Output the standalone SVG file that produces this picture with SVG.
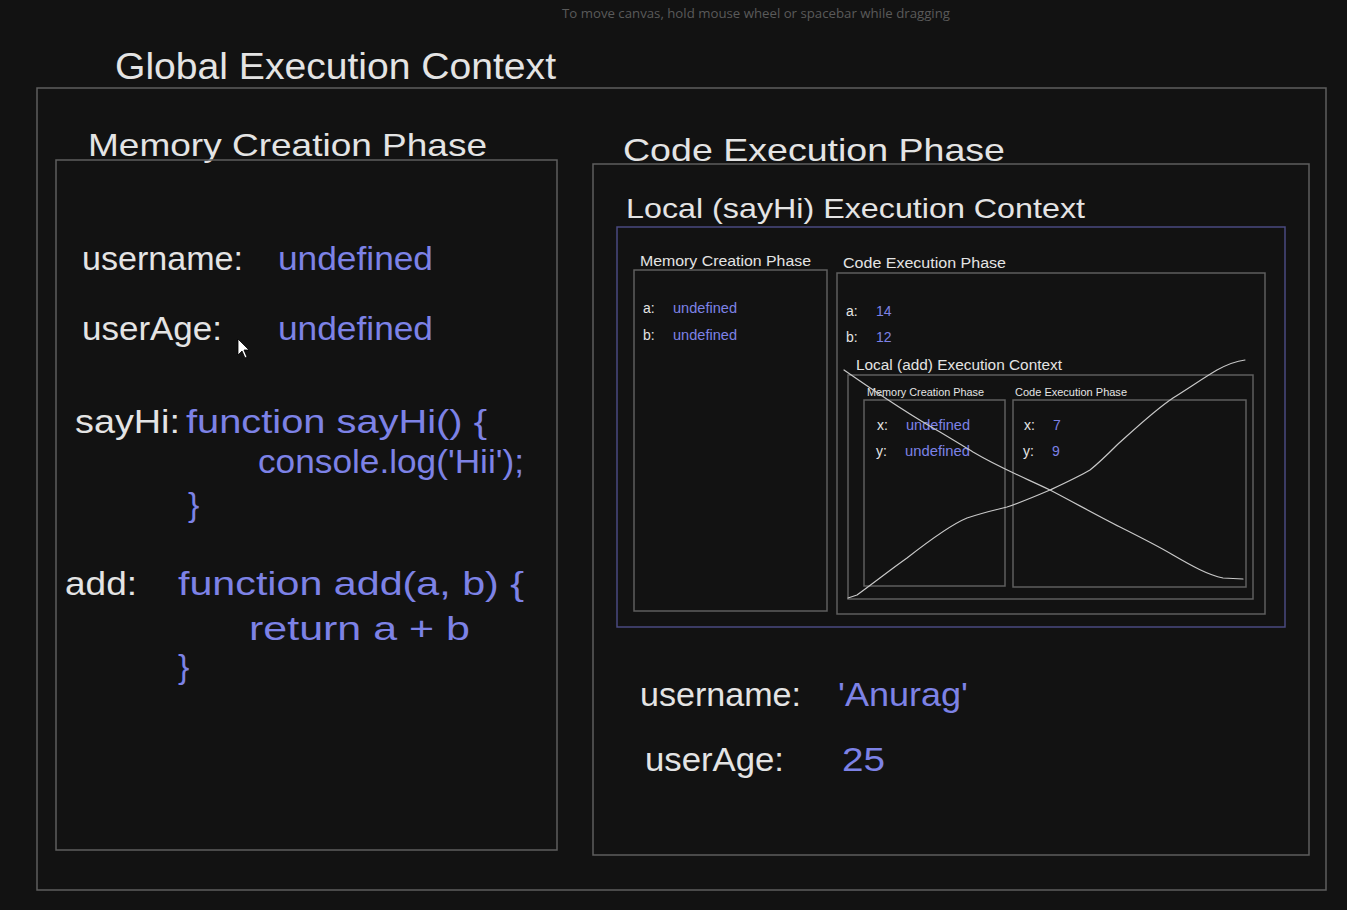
<svg xmlns="http://www.w3.org/2000/svg" width="1347" height="910" viewBox="0 0 1347 910">
<style>
.bg{fill:#121212}
.box{fill:none;stroke:#5e5e5e;stroke-width:1.5}
.boxp{fill:none;stroke:#4a4a80;stroke-width:1.5}
.w{fill:#e4e4e4;font-family:"Liberation Sans",Arial,sans-serif}
.b{fill:#7d82e6;font-family:"Liberation Sans",Arial,sans-serif}
.hint{fill:#5a5a5a;font-family:"Open Sans","Liberation Sans",sans-serif;font-size:13px}
.x{fill:none;stroke:#c8c8c8;stroke-width:1.2;stroke-linecap:round;stroke-linejoin:round}
</style>
<rect class="bg" x="0" y="0" width="1347" height="910"/>
<text class="hint" x="756" y="18" text-anchor="middle" textLength="388" lengthAdjust="spacingAndGlyphs">To move canvas, hold mouse wheel or spacebar while dragging</text>

<g id="global-context">
<text class="w" x="115" y="79" font-size="36" textLength="441" lengthAdjust="spacingAndGlyphs">Global Execution Context</text>
<rect class="box" x="37" y="88" width="1289" height="802"/>
</g>

<g id="memory-phase">
<text class="w" x="88" y="156" font-size="32" textLength="399" lengthAdjust="spacingAndGlyphs">Memory Creation Phase</text>
<rect class="box" x="56" y="160" width="501" height="690"/>
<text class="w" x="82" y="270" font-size="34" textLength="161" lengthAdjust="spacingAndGlyphs">username:</text>
<text class="b" x="278" y="270" font-size="34" textLength="155" lengthAdjust="spacingAndGlyphs">undefined</text>
<text class="w" x="82" y="340" font-size="34" textLength="140" lengthAdjust="spacingAndGlyphs">userAge:</text>
<text class="b" x="278" y="340" font-size="34" textLength="155" lengthAdjust="spacingAndGlyphs">undefined</text>
<text class="w" x="75" y="433" font-size="34" textLength="105" lengthAdjust="spacingAndGlyphs">sayHi:</text>
<text class="b" x="186" y="433" font-size="34" textLength="301" lengthAdjust="spacingAndGlyphs">function sayHi() {</text>
<text class="b" x="258" y="473" font-size="34" textLength="266" lengthAdjust="spacingAndGlyphs">console.log('Hii');</text>
<text class="b" x="188" y="516" font-size="34">}</text>
<text class="w" x="65" y="595" font-size="34" textLength="72" lengthAdjust="spacingAndGlyphs">add:</text>
<text class="b" x="178" y="595" font-size="34" textLength="346" lengthAdjust="spacingAndGlyphs">function add(a, b) {</text>
<text class="b" x="249" y="640" font-size="34" textLength="221" lengthAdjust="spacingAndGlyphs">return a + b</text>
<text class="b" x="178" y="678" font-size="34">}</text>
</g>

<g id="code-phase">
<text class="w" x="623" y="161" font-size="32" textLength="382" lengthAdjust="spacingAndGlyphs">Code Execution Phase</text>
<rect class="box" x="593" y="164" width="716" height="691"/>
<text class="w" x="640" y="706" font-size="34" textLength="161" lengthAdjust="spacingAndGlyphs">username:</text>
<text class="b" x="838" y="706" font-size="34" textLength="130" lengthAdjust="spacingAndGlyphs">'Anurag'</text>
<text class="w" x="645" y="771" font-size="34" textLength="139" lengthAdjust="spacingAndGlyphs">userAge:</text>
<text class="b" x="842" y="771" font-size="34" textLength="43" lengthAdjust="spacingAndGlyphs">25</text>
</g>

<g id="local-sayhi-context">
<text class="w" x="626" y="218" font-size="28" textLength="459" lengthAdjust="spacingAndGlyphs">Local (sayHi) Execution Context</text>
<rect class="boxp" x="617" y="227" width="668" height="400"/>
</g>

<g id="sayhi-memory-phase">
<text class="w" x="640" y="266" font-size="14" textLength="171" lengthAdjust="spacingAndGlyphs">Memory Creation Phase</text>
<rect class="box" x="634" y="270" width="193" height="341"/>
<text class="w" x="643" y="313" font-size="14">a:</text>
<text class="b" x="673" y="313" font-size="14" textLength="64" lengthAdjust="spacingAndGlyphs">undefined</text>
<text class="w" x="643" y="340" font-size="14">b:</text>
<text class="b" x="673" y="340" font-size="14" textLength="64" lengthAdjust="spacingAndGlyphs">undefined</text>
</g>

<g id="sayhi-code-phase">
<text class="w" x="843" y="268" font-size="14" textLength="163" lengthAdjust="spacingAndGlyphs">Code Execution Phase</text>
<rect class="box" x="837" y="273" width="428" height="341"/>
<text class="w" x="846" y="316" font-size="14">a:</text>
<text class="b" x="876" y="316" font-size="14">14</text>
<text class="w" x="846" y="342" font-size="14">b:</text>
<text class="b" x="876" y="342" font-size="14">12</text>
</g>

<g id="local-add-context">
<text class="w" x="856" y="370" font-size="14" textLength="206" lengthAdjust="spacingAndGlyphs">Local (add) Execution Context</text>
<rect class="box" x="848" y="375" width="405" height="224"/>
</g>

<g id="add-memory-phase">
<text class="w" x="867" y="396" font-size="10" textLength="117" lengthAdjust="spacingAndGlyphs">Memory Creation Phase</text>
<rect class="box" x="864" y="400" width="141" height="186"/>
<text class="w" x="877" y="430" font-size="14">x:</text>
<text class="b" x="906" y="430" font-size="14" textLength="64" lengthAdjust="spacingAndGlyphs">undefined</text>
<text class="w" x="876" y="456" font-size="14">y:</text>
<text class="b" x="905" y="456" font-size="14" textLength="65" lengthAdjust="spacingAndGlyphs">undefined</text>
</g>

<g id="add-code-phase">
<text class="w" x="1015" y="396" font-size="10" textLength="112" lengthAdjust="spacingAndGlyphs">Code Execution Phase</text>
<rect class="box" x="1013" y="400" width="233" height="187"/>
<text class="w" x="1024" y="430" font-size="14">x:</text>
<text class="b" x="1053" y="430" font-size="14">7</text>
<text class="w" x="1023" y="456" font-size="14">y:</text>
<text class="b" x="1052" y="456" font-size="14">9</text>
</g>

<g id="connectors">
<path class="x" d="M844,370 C880,395 915,418 940,432 C955,441 965,447 973,452 C1000,468 1025,478 1050,490 C1075,503 1098,516 1120,527 C1140,537 1158,546 1173,555 C1192,566 1208,575 1223,578 L1243,579"/>
<path class="x" d="M848,598 L857,595 C875,582 890,570 907,558 C930,540 950,525 967,518 C985,512 995,510 1007,507 C1022,502 1036,496 1050,490 C1065,483 1078,477 1090,470 C1100,462 1108,454 1117,445 C1137,427 1155,410 1173,398 C1192,386 1205,377 1217,370 C1228,364 1237,361 1245,360"/>
</g>

<path d="M238,339 L238,355 L242,351 L245,358 L247,357 L244,350 L249,350 Z" fill="#ffffff" stroke="#000000" stroke-width="0.8"/>
</svg>
